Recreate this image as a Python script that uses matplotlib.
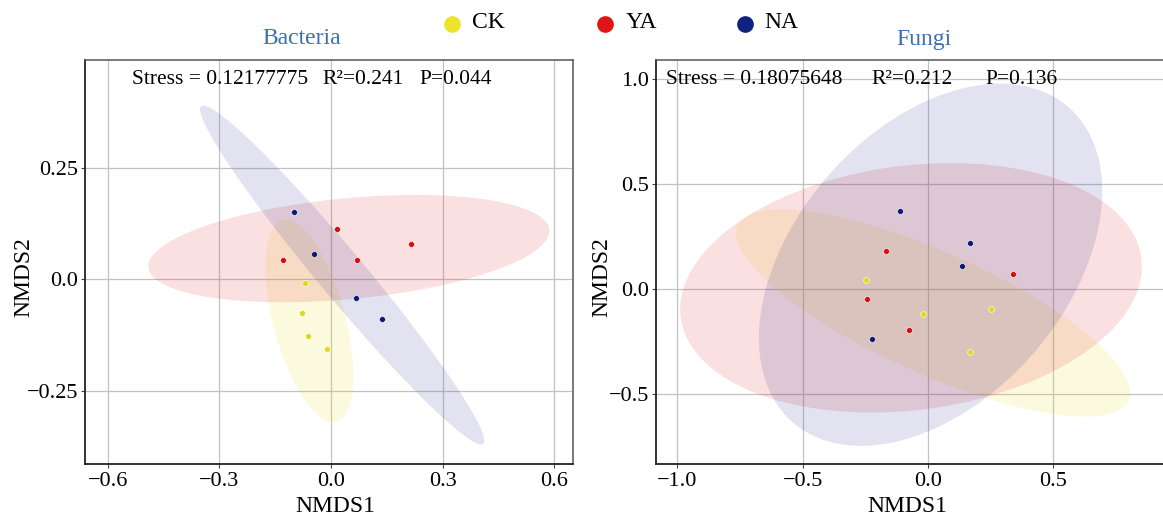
# NMDS ordination of bacteria and fungi communities
import matplotlib
matplotlib.use("Agg")
import matplotlib.pyplot as plt
from matplotlib.patches import Ellipse
from matplotlib.lines import Line2D

plt.rcParams['font.family'] = ['Liberation Serif', 'DejaVu Serif']

groups = ["CK", "YA", "NA"]
point_colors = ["#E2D81E", "#D80E0E", "#0B1A72"]
fill_colors = ["#EBDE23", "#DE3030", "#3E3E9B"]
legend_colors = ["#EBE42A", "#E01515", "#0E2380"]

# Bacteria NMDS scores
bac_x = {"CK": [-0.070, -0.079, -0.063, -0.012],
         "YA": [0.015, 0.214, -0.130, 0.069],
         "NA": [-0.100, -0.045, 0.066, 0.137]}
bac_y = {"CK": [-0.009, -0.076, -0.127, -0.155],
         "YA": [0.112, 0.080, 0.043, 0.043],
         "NA": [0.151, 0.057, -0.041, -0.088]}
# ellipse: centre x, centre y, width, height, angle
bac_ell = {"CK": (-0.058, -0.093, 0.475, 0.19, -71.3),
           "YA": (0.048, 0.069, 1.08, 0.226, 4.4),
           "NA": (0.030, 0.010, 1.07, 0.115, -44.8)}

# Fungi NMDS scores
fun_x = {"CK": [-0.249, -0.021, 0.250, 0.166],
         "YA": [-0.169, 0.339, -0.242, -0.077],
         "NA": [-0.112, 0.167, 0.135, -0.224]}
fun_y = {"CK": [0.041, -0.120, -0.098, -0.300],
         "YA": [0.180, 0.069, -0.047, -0.195],
         "NA": [0.371, 0.218, 0.110, -0.239]}
fun_ell = {"CK": (0.02, -0.115, 1.77, 0.56, -29.0),
           "YA": (-0.068, 0.005, 1.86, 1.16, 10.4),
           "NA": (0.01, 0.115, 1.88, 1.15, 60.0)}

bac_xticks = [-0.6, -0.3, 0.0, 0.3, 0.6]
bac_xlabels = ["\u22120.6", "\u22120.3", "0.0", "0.3", "0.6"]
bac_yticks = [-0.25, 0.0, 0.25]
bac_ylabels = ["\u22120.25", "0.0", "0.25"]
fun_xticks = [-1.0, -0.5, 0.0, 0.5]
fun_xlabels = ["\u22121.0", "\u22120.5", "0.0", "0.5"]
fun_yticks = [-0.5, 0.0, 0.5, 1.0]
fun_ylabels = ["\u22120.5", "0.0", "0.5", "1.0"]

fig = plt.figure(figsize=(11.63, 5.17), dpi=100)
ax1 = fig.add_axes([0.0731, 0.1025, 0.4192, 0.7814])
ax2 = fig.add_axes([0.5641, 0.1025, 0.4359, 0.7814])


def draw_panel(ax, xs, ys, ells, xticks, xlabels, yticks, ylabels, xlim, ylim):
    for g, fc in zip(groups, fill_colors):
        cx, cy, w, h, ang = ells[g]
        ax.add_patch(Ellipse((cx, cy), w, h, angle=ang, facecolor=fc,
                             alpha=0.15, edgecolor='none', zorder=2))
    for g, pc in zip(groups, point_colors):
        ax.scatter(xs[g], ys[g], s=18, color=pc, edgecolors='white',
                   linewidths=0.4, zorder=4)
    ax.set_xlim(xlim)
    ax.set_ylim(ylim)
    ax.set_xticks(xticks)
    ax.set_xticklabels(xlabels)
    ax.set_yticks(yticks)
    ax.set_yticklabels(ylabels)
    ax.grid(True, color='#C2C2C2', linewidth=0.9)
    ax.set_axisbelow(True)
    ax.tick_params(labelsize=16, length=3, width=0.8, color='#444444',
                   pad=2, labelcolor='black')
    ax.tick_params(axis='x', pad=3)
    for side in ['left', 'bottom']:
        ax.spines[side].set_color('#222222')
        ax.spines[side].set_linewidth(1.3)
    for side in ['top', 'right']:
        ax.spines[side].set_color('#555555')
        ax.spines[side].set_linewidth(1.1)
    ax.set_xlabel("NMDS1", fontsize=17)
    ax.set_ylabel("NMDS2", fontsize=17)


draw_panel(ax1, bac_x, bac_y, bac_ell, bac_xticks, bac_xlabels,
           bac_yticks, bac_ylabels, (-0.661, 0.649), (-0.413, 0.491))
draw_panel(ax2, fun_x, fun_y, fun_ell, fun_xticks, fun_xlabels,
           fun_yticks, fun_ylabels, (-1.085, 0.937), (-0.835, 1.091))
ax2.spines['right'].set_visible(False)

ax1.xaxis.set_label_coords(0.514, -0.079)
ax1.yaxis.set_label_coords(-0.104, 0.463)
ax2.xaxis.set_label_coords(0.495, -0.079)
ax2.yaxis.set_label_coords(-0.086, 0.463)

# statistics
ax1.text(0.0964, 0.953, "Stress = 0.12177775", transform=ax1.transAxes,
         fontsize=15.5, ha='left', va='center', zorder=5)
ax1.text(0.4876, 0.953, "R\u00b2=0.241", transform=ax1.transAxes,
         fontsize=15.5, ha='left', va='center', zorder=5)
ax1.text(0.6858, 0.953, "P=0.044", transform=ax1.transAxes,
         fontsize=15.5, ha='left', va='center', zorder=5)
ax2.text(0.0187, 0.953, "Stress = 0.18075648", transform=ax2.transAxes,
         fontsize=15.5, ha='left', va='center', zorder=5)
ax2.text(0.424, 0.953, "R\u00b2=0.212", transform=ax2.transAxes,
         fontsize=15.5, ha='left', va='center', zorder=5)
ax2.text(0.649, 0.953, "P=0.136", transform=ax2.transAxes,
         fontsize=15.5, ha='left', va='center', zorder=5)

# panel titles
fig.text(301.9 / 1163, 1 - 38.3 / 517, "Bacteria", color='#3B6FB0',
         fontsize=17, ha='center', va='center')
fig.text(923.9 / 1163, 1 - 40 / 517, "Fungi", color='#3B6FB0',
         fontsize=17, ha='center', va='center')

# legend at the top
leg_dot_x = [451.7, 605.3, 744.7]
for g, c, lx in zip(groups, legend_colors, leg_dot_x):
    fig.add_artist(Line2D([lx / 1163], [1 - 24 / 517], marker='o',
                          markersize=11, color=c, linestyle='none',
                          transform=fig.transFigure))
    fig.text((lx + 20) / 1163, 1 - 22 / 517, g, fontsize=17,
             ha='left', va='center')

fig.savefig("out.png", dpi=100)
